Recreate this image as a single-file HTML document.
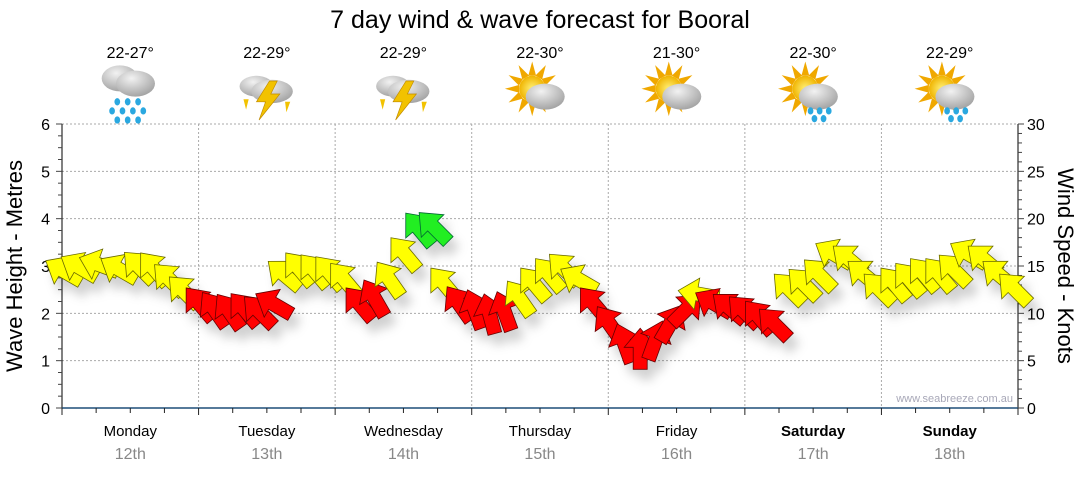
<!DOCTYPE html>
<html><head><meta charset="utf-8">
<style>
html,body{margin:0;padding:0;background:#fff;}
body{width:1080px;height:475px;overflow:hidden;font-family:"Liberation Sans",sans-serif;}
</style></head>
<body>
<svg id="chart" width="1080" height="475" xmlns="http://www.w3.org/2000/svg" font-family="Liberation Sans, sans-serif">
<defs>
<filter id="sh" x="-50%" y="-50%" width="200%" height="200%"><feDropShadow dx="6" dy="10" stdDeviation="5" flood-color="#000" flood-opacity="0.18"/></filter>
<radialGradient id="cl" cx="0.4" cy="0.3" r="0.8"><stop offset="0" stop-color="#f2f2f2"/><stop offset="1" stop-color="#9a9a9a"/></radialGradient>
<radialGradient id="sun" cx="0.5" cy="0.5" r="0.5"><stop offset="0" stop-color="#fff27a"/><stop offset="1" stop-color="#f0b400"/></radialGradient>
</defs>
<text x="540" y="28" font-size="25" text-anchor="middle" fill="#000">7 day wind &amp; wave forecast for Booral</text>
<g id="grid"></g>
<g id="axes"></g>
<g id="icons"></g>
<g id="arrows" filter="url(#sh)"></g>
<text x="1013" y="402" font-size="11" text-anchor="end" fill="#a8a8b8">www.seabreeze.com.au</text>
<text transform="translate(22,266) rotate(-90)" font-size="22" text-anchor="middle">Wave Height - Metres</text>
<text transform="translate(1058,266) rotate(90)" font-size="22" text-anchor="middle">Wind Speed - Knots</text>
</svg>
<script>
const days = ["Monday","Tuesday","Wednesday","Thursday","Friday","Saturday","Sunday"];
const dates = ["12th","13th","14th","15th","16th","17th","18th"];
const temps = ["22-27°","22-29°","22-29°","22-30°","21-30°","22-30°","22-29°"];
const weather = ["rain","storm","storm","sun","sun","sunshower","sunshower"];
const leftTicks = [0,1,2,3,4,5,6];
const rightTicks = [0,5,10,15,20,25,30];
const hours = [0.5,3.2,6.7,10.2,13.7,16.3,19.0,21.6,24.3,26.9,29.5,32.2,34.8,37.4,39.2,41.8,44.5,47.1,49.7,52.4,55.0,57.6,60.3,62.9,65.5,67.3,69.9,72.6,75.2,77.8,80.5,83.1,85.7,88.4,91.0,93.6,96.3,98.9,101.6,104.2,106.8,109.5,112.1,114.7,117.4,120.0,122.6,125.3,127.9,130.5,133.2,135.8,138.5,141.1,143.7,146.4,149.0,151.6,154.3,156.9,159.5,162.2,164.8,167.5];
const windSpeed = [14.4,14.8,15.1,14.6,14.8,14.6,13.5,12.2,10.9,10.3,10.1,10.3,10.1,10.9,14.0,14.6,14.4,14.2,13.5,10.9,11.5,13.5,16.2,18.8,19.0,13.0,10.9,10.3,9.8,10.1,11.5,13.0,14.0,14.6,13.5,10.9,8.8,6.7,6.1,7.0,8.8,10.3,12.0,11.0,10.5,10.1,9.5,8.8,12.5,13.0,14.0,16.2,15.6,14.0,12.5,13.0,13.5,14.0,14.0,14.5,16.2,15.6,14.0,12.5];
const windDir = [-60,-60,-70,-60,-45,-40,-45,-45,-40,-35,-35,-40,-45,-60,-50,-40,-40,-40,-40,-40,-30,-35,-40,-40,-45,-40,-35,-20,-15,-20,-35,-40,-40,-45,-60,-40,-35,-20,0,20,30,45,-80,-60,-50,-45,-40,-45,-45,-45,-45,-60,-50,-50,-45,-40,-40,-40,-40,-45,-60,-50,-50,-45];
const windCat = "YYYYYYYYRRRRRRYYYYYRRYYGGYRRRRYYYYYRRRRRRRYRRRRRYYYYYYYYYYYYYYYY".split("");

const X0=62,X1=1018,Y0=408,Y1=124;
const xH = h => X0 + h/168*(X1-X0);
const yM = m => Y0 - m/6*(Y0-Y1);
const yK = k => Y0 - k/30*(Y0-Y1);
const NS="http://www.w3.org/2000/svg";
function mk(tag, attrs, parent){const e=document.createElementNS(NS,tag);for(const k in attrs)e.setAttribute(k,attrs[k]);parent.appendChild(e);return e;}
const grid=document.getElementById('grid'), axes=document.getElementById('axes'), icons=document.getElementById('icons'), arrows=document.getElementById('arrows');

leftTicks.forEach(m=>{ if(m>0){ const l=mk('line',{x1:X0,x2:X1,y1:yM(m),y2:yM(m),stroke:'#aaa','stroke-dasharray':'2,2'},grid);

}});
for(let d=1;d<7;d++){ const l=mk('line',{x1:xH(d*24),x2:xH(d*24),y1:Y1,y2:Y0,stroke:'#aaa','stroke-dasharray':'2,2'},grid);

}
mk('line',{x1:X0,x2:X0,y1:Y1,y2:Y0,stroke:'#000'},axes);
mk('line',{x1:X1,x2:X1,y1:Y1,y2:Y0,stroke:'#000'},axes);
const base=mk('line',{x1:X0,x2:X1,y1:Y0,y2:Y0,stroke:'#1f4e79','stroke-width':1.5},axes);


for(let i=0;i<=24;i++){const m=i/4;mk('line',{x1:X0-(i%4?4:6),x2:X0,y1:yM(m),y2:yM(m),stroke:'#444'},axes);}
for(let k=0;k<=30;k++){mk('line',{x1:X1,x2:X1+(k%5?4:6),y1:yK(k),y2:yK(k),stroke:'#444'},axes);}
for(let q=0;q<=28;q++){mk('line',{x1:xH(q*6),x2:xH(q*6),y1:Y0,y2:Y0+(q%4?5:7),stroke:'#222'},axes);}
leftTicks.forEach(m=>{const t=mk('text',{x:X0-12,y:yM(m)+6,'font-size':16,'text-anchor':'end'},axes);t.textContent=m;

});
rightTicks.forEach(k=>{const t=mk('text',{x:X1+9,y:yK(k)+6,'font-size':16},axes);t.textContent=k;

});
days.forEach((d,i)=>{const cx=xH(i*24+12);
const t=mk('text',{x:cx,y:436,'font-size':15,'text-anchor':'middle','font-weight':i>=5?'bold':'normal'},axes);t.textContent=d;


const t2=mk('text',{x:cx,y:459,'font-size':16,'text-anchor':'middle',fill:'#888'},axes);t2.textContent=dates[i];


const t3=mk('text',{x:cx,y:58,'font-size':16,'text-anchor':'middle'},icons);t3.textContent=temps[i];


const g=mk('g',{transform:`translate(${cx},94) scale(1.3)`},icons);


const w=weather[i];
if(w==='sun'||w==='sunshower'){
 for(let a=0;a<12;a++){mk('polygon',{points:'-3,0 3,0 0,-11',fill:'#f0a800',transform:`translate(-6,-4) rotate(${a*30}) translate(0,-10)`},g);}
 mk('circle',{cx:-6,cy:-4,r:10,fill:'url(#sun)'},g);
}
if(w==='rain'){mk('ellipse',{cx:-8,cy:-12,rx:14,ry:10,fill:'url(#cl)'},g);}
if(w==='storm'){mk('ellipse',{cx:-8,cy:-6,rx:13,ry:8,fill:'url(#cl)'},g);}
const cy = w==='rain'?-8:(w==='storm'?-2:2);
mk('ellipse',{cx:4,cy:cy,rx:w==='storm'?16:15,ry:w==='storm'?9:10,fill:'url(#cl)'},g);
if(w==='rain'||w==='sunshower'){
 const drops = w==='rain'?[[-10,6],[-2,6],[6,6],[-14,13],[-6,13],[2,13],[10,13],[-10,20],[-2,20],[6,20]]:[[-2,13],[5,13],[12,13],[1,19],[8,19]];
 drops.forEach(p=>mk('ellipse',{cx:p[0],cy:p[1],rx:2.2,ry:2.8,fill:'#2aa8e0'},g));
}
if(w==='storm'){mk('polygon',{points:'2,-10 -8,6 -1,6 -6,20 10,0 3,0 8,-10',fill:'#f2c200',stroke:'#c08a00','stroke-width':0.5},g);
 mk('polygon',{points:'-18,4 -14,4 -16,12',fill:'#f2c200'},g);mk('polygon',{points:'14,6 18,6 15,14',fill:'#f2c200'},g);}
});
const colors={Y:'#ffff00',R:'#ff0000',G:'#22ee22'};
const strokes={Y:'#6b6b00',R:'#600',G:'#063'};
hours.forEach((h,i)=>{
 const p=mk('polygon',{points:'0,-22 16,-3 7,-3 7,19 -7,19 -7,-3 -16,-3',fill:colors[windCat[i]],stroke:strokes[windCat[i]],'stroke-width':0.8,'stroke-linejoin':'miter',
 transform:`translate(${xH(h).toFixed(1)},${yK(windSpeed[i]).toFixed(1)}) rotate(${windDir[i]})`},arrows);
 
 
});
</script>
</body></html>
